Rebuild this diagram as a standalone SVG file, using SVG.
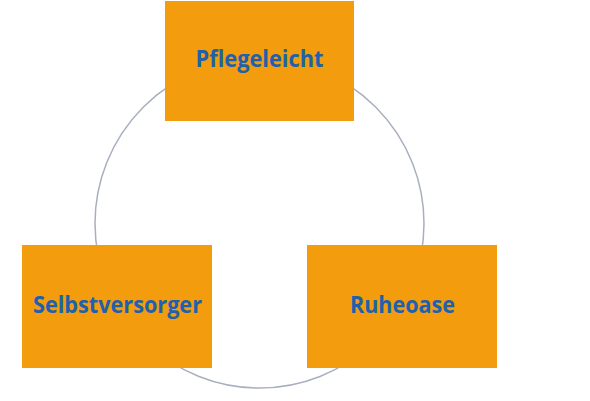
<svg xmlns="http://www.w3.org/2000/svg" width="590" height="401" viewBox="0 0 590 401">
<style>
.box{fill:#F29C0E;}
.lbl{font-family:"Open Sans","Noto Sans","DejaVu Sans",sans-serif;font-weight:bold;font-size:23px;fill:#2160AC;text-anchor:middle;}
</style>
<rect width="590" height="401" fill="#FFFFFF"/>
<g id="connectors">
<circle cx="259.5" cy="223.5" r="164.5" fill="none" stroke="#A8AFBF" stroke-width="1.5"/>
</g>
<g id="node-pflegeleicht">
<rect class="box" x="165" y="1" width="189" height="120"/>
<text class="lbl" x="259.5" y="67" textLength="128" lengthAdjust="spacingAndGlyphs">Pflegeleicht</text>
</g>
<g id="node-selbstversorger">
<rect class="box" x="22" y="245" width="190" height="123"/>
<text class="lbl" x="117.5" y="313" textLength="169" lengthAdjust="spacingAndGlyphs">Selbstversorger</text>
</g>
<g id="node-ruheoase">
<rect class="box" x="307" y="245" width="190" height="123"/>
<text class="lbl" x="402.5" y="313" textLength="105" lengthAdjust="spacingAndGlyphs">Ruheoase</text>
</g>
</svg>
